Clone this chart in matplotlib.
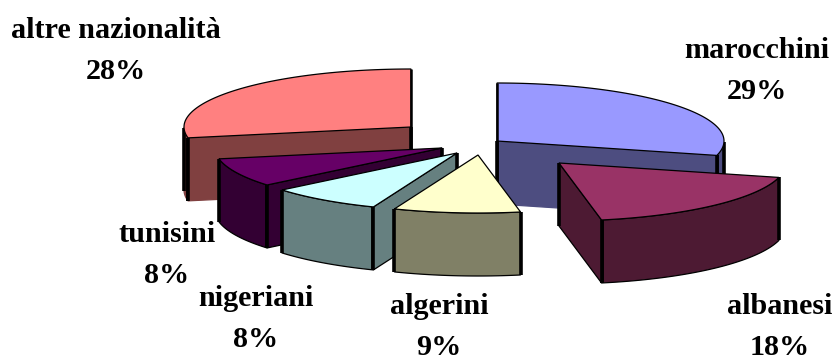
import numpy as np
import matplotlib
matplotlib.use('Agg')
import matplotlib.pyplot as plt
from matplotlib.patches import Polygon

names = ['marocchini', 'albanesi', 'algerini', 'nigeriani', 'tunisini', 'altre nazionalità']
shares = [29, 18, 9, 8, 8, 28]

top_colors = ['#9999FF', '#993366', '#FFFFCC', '#CCFFFF', '#660066', '#FF8080']
side_colors = ['#4D4D80', '#4D1A33', '#808066', '#668080', '#330033', '#804040']

# how far each slice is pulled out of the pie
explode_x = [47, 109, 28, 7, -8, -39]
explode_y = [-9, 13, 5, 3, -2, -23]

# centre of each label, baseline of its lower line
label_x = [757, 780, 439, 256, 167, 116]
label_y = [99, 355, 355, 347, 283, 79]

centre_x, centre_y = 450, 150
rx, ry = 227, 58
depth = 63

# back to front
draw_order = [5, 0, 4, 3, 2, 1]

plt.rcParams['font.family'] = ['Liberation Serif', 'DejaVu Serif']

fig = plt.figure(figsize=(8.36, 3.6), dpi=100)
ax = fig.add_axes([0, 0, 1, 1])
ax.set_xlim(0, 836)
ax.set_ylim(360, 0)
ax.axis('off')

z = 1


def next_z():
    global z
    z += 1
    return z


def rim(theta, ox, oy):
    # theta in degrees, clockwise from twelve o'clock
    t = np.radians(theta)
    return ox + rx * np.sin(t), oy - ry * np.cos(t)


def side_face(xs, ys, color, outlined=True):
    xs = np.asarray(xs)
    ys = np.asarray(ys)
    px = np.concatenate([xs, xs[::-1]])
    py = np.concatenate([ys, ys[::-1] + depth])
    ax.add_patch(Polygon(np.column_stack([px, py]), closed=True, facecolor=color,
                         edgecolor='black' if outlined else color, linewidth=0.9,
                         joinstyle='miter', zorder=next_z()))
    for x, y in [(xs[0], ys[0]), (xs[-1], ys[-1])]:
        ax.plot([x, x], [y, y + depth], color='black', lw=2.6,
                solid_capstyle='butt', zorder=next_z())


ends = np.cumsum(shares) * 3.6
starts = ends - np.array(shares) * 3.6

for i in draw_order:
    a1, a2 = starts[i], ends[i]
    ox = centre_x + explode_x[i]
    oy = centre_y + explode_y[i]
    theta = np.linspace(a1, a2, 80)
    arc_x, arc_y = rim(theta, ox, oy)
    # the two slices at the back have no dark line along their base
    at_back = a1 == 0 or a2 >= 359.9

    # only faces turned towards the viewer are drawn
    front = np.cos(np.radians(theta)) < 0
    if front.sum() > 1:
        side_face(arc_x[front], arc_y[front], side_colors[i], not at_back)
    if np.sin(np.radians(a1)) < -1e-6:
        ex, ey = rim(a1, ox, oy)
        side_face([ox, ex], [oy, ey], side_colors[i], not at_back)
    if np.sin(np.radians(a2)) > 1e-6:
        ex, ey = rim(a2, ox, oy)
        side_face([ox, ex], [oy, ey], side_colors[i], not at_back)

    top = np.column_stack([np.r_[ox, arc_x], np.r_[oy, arc_y]])
    ax.add_patch(Polygon(top, closed=True, facecolor=top_colors[i], edgecolor='black',
                         linewidth=0.9, joinstyle='miter', zorder=next_z()))

    # heavy edge where a back slice meets the gap
    if at_back:
        ax.plot([ox, ox], [oy - ry, oy + depth * 0.7], color='black', lw=1.8,
                solid_capstyle='butt', zorder=next_z())

for name, share, x, y in zip(names, shares, label_x, label_y):
    ax.text(x, y, f'{name}\n{share}%', ha='center', va='baseline', fontsize=21.7,
            fontweight='bold', linespacing=1.67, color='black', zorder=next_z())

fig.savefig('out.png', dpi=100)
